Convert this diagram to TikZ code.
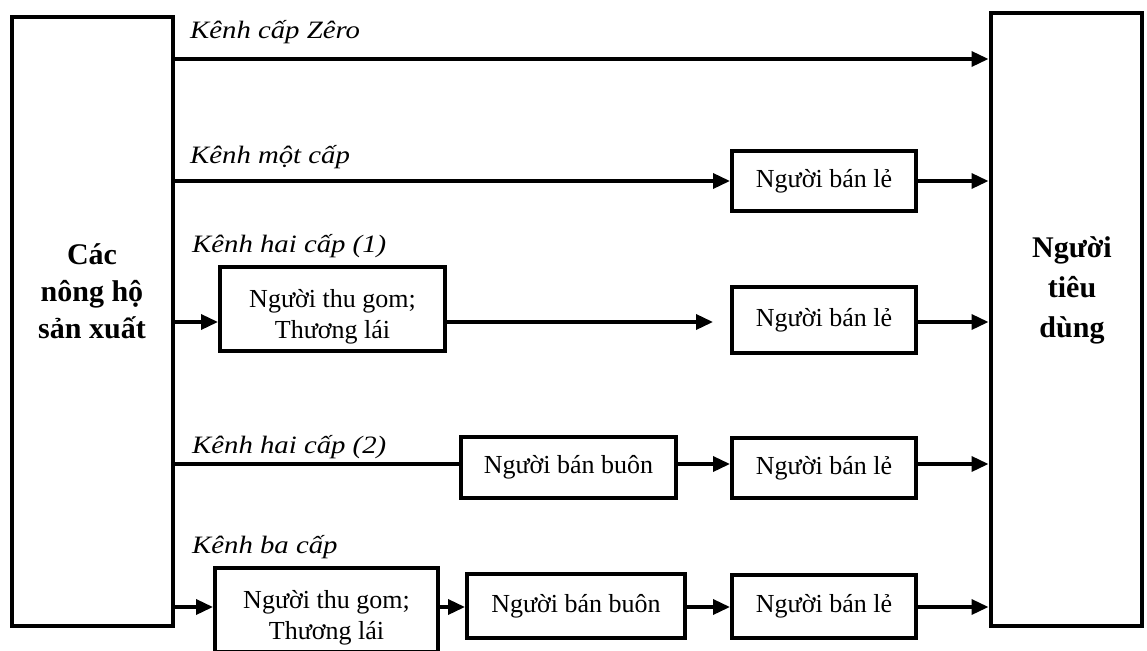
\documentclass[tikz,border=0pt]{standalone}
\usepackage{fontspec}
\setmainfont{Liberation Serif}
\newfontfamily\chanfont{Liberation Serif}[FakeStretch=1.15]
\usetikzlibrary{arrows.meta}
\begin{document}
\begin{tikzpicture}[x=1pt,y=-1pt,
  box/.style={draw, line width=4pt, inner sep=0pt, align=center,
    font=\fontsize{26}{31}\selectfont},
  endbox/.style={draw, line width=4pt, inner sep=0pt},
  endtext/.style={align=center, inner sep=0pt,
    font=\fontsize{30}{38}\selectfont\bfseries},
  chan/.style={anchor=base west, inner sep=0pt,
    font=\chanfont\itshape\fontsize{25}{30}\selectfont},
  arr/.style={line width=3.5pt, -{Triangle[length=17pt,width=15pt]}},
  link/.style={line width=3.5pt}]
\useasboundingbox (0,0) rectangle (1147,650);
\clip (0,0) rectangle (1147,650);

% producers and consumers
\node[endbox, minimum width=161pt, minimum height=609pt] (L) at (92.5,321.5) {};
\node[endtext] (Ltxt) at (92,291) {Các\\[-1pt]nông hộ\\[-1pt]sản xuất};
\node[endbox, minimum width=151pt, minimum height=613pt] (R) at (1066,319.5) {};
\node[endtext] (Rtxt) at (1072,290) {Người\\[2pt]tiêu\\[2pt]dùng};

% rows of the channels
\coordinate (r1) at (0,59);
\coordinate (r2) at (0,181);
\coordinate (r3) at (0,322);
\coordinate (r4) at (0,464);
\coordinate (r5) at (0,607);

% channel names
\node[chan] (c1) at (190,39) {Kênh cấp Zêro};
\node[chan] (c2) at (190,163) {Kênh một cấp};
\node[chan] (c3) at (192,252) {Kênh hai cấp (1)};
\node[chan] (c4) at (192,453) {Kênh hai cấp (2)};
\node[chan] (c5) at (192,553) {Kênh ba cấp};

% intermediaries (the two-line boxes carry their text a little low)
\node[box, minimum width=184pt, minimum height=60pt] (b2) at (824,181) {Người bán lẻ};
\node[box, minimum width=225pt, minimum height=84pt] (t3) at (332.5,309) {\rule{0pt}{34pt}Người thu gom;\\Thương lái};
\node[box, minimum width=184pt, minimum height=66pt] (b3) at (824,320) {Người bán lẻ};
\node[box, minimum width=215pt, minimum height=61pt] (m4) at (568.5,467.5) {Người bán buôn};
\node[box, minimum width=184pt, minimum height=60pt] (b4) at (824,468) {Người bán lẻ};
\node[box, minimum width=223pt, minimum height=84pt] (t5) at (326.5,610) {\rule{0pt}{34pt}Người thu gom;\\Thương lái};
\node[box, minimum width=218pt, minimum height=64pt] (m5) at (576,606) {Người bán buôn};
\node[box, minimum width=184pt, minimum height=63pt] (b5) at (824,606.5) {Người bán lẻ};

% zero level
\draw[arr] (L.east |- r1) -- (R.west |- r1);
% one level
\draw[arr] (L.east |- r2) -- (b2.west |- r2);
\draw[arr] (b2.east |- r2) -- (R.west |- r2);
% two levels (1)
\draw[arr] (L.east |- r3) -- (t3.west |- r3);
\draw[arr, shorten >=17pt] (t3.east |- r3) -- (b3.west |- r3);
\draw[arr] (b3.east |- r3) -- (R.west |- r3);
% two levels (2)
\draw[link] (L.east |- r4) -- (m4.west |- r4);
\draw[arr] (m4.east |- r4) -- (b4.west |- r4);
\draw[arr] (b4.east |- r4) -- (R.west |- r4);
% three levels
\draw[arr] (L.east |- r5) -- (t5.west |- r5);
\draw[arr] (t5.east |- r5) -- (m5.west |- r5);
\draw[arr] (m5.east |- r5) -- (b5.west |- r5);
\draw[arr] (b5.east |- r5) -- (R.west |- r5);
\end{tikzpicture}
\end{document}
